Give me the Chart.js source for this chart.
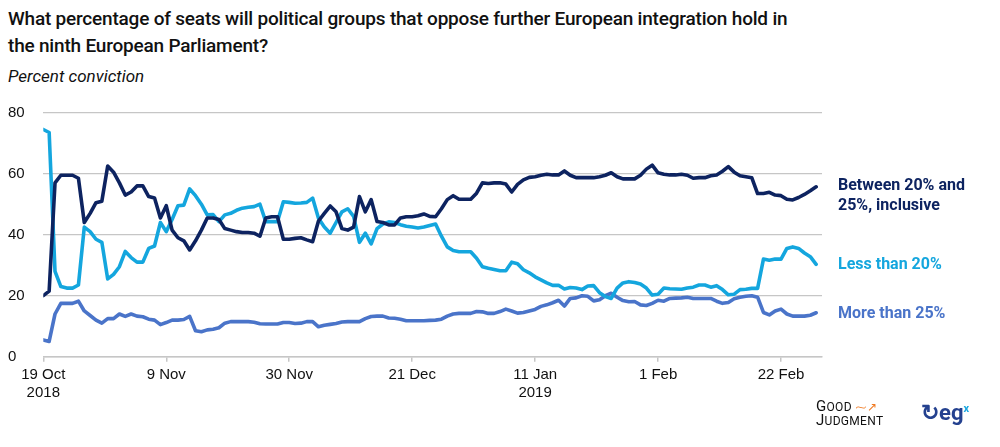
<!DOCTYPE html>
<html>
<head>
<meta charset="utf-8">
<script src="https://cdn.jsdelivr.net/npm/chart.js@4/dist/chart.umd.min.js"></script>
<style>
  html, body { margin: 0; padding: 0; background: #fff; }
  body { width: 1000px; height: 447px; position: relative; overflow: hidden; font-family: Roboto, sans-serif; color: #111; }
  #title { position: absolute; left: 8px; top: 5px; font-size: 19px; font-weight: 500; line-height: 27px; letter-spacing: -0.2px; }
  #subtitle { position: absolute; left: 8px; top: 66px; font-size: 17px; font-style: italic; }
  #wrap { position: absolute; left: 0; top: 0; width: 1000px; height: 447px; }
  .lab { position: absolute; left: 838px; font-size: 16px; font-weight: 700; line-height: 20px; }
  #logo-gj { position: absolute; left: 816px; top: 400px; font-size: 12px; line-height: 13px; color: #111; letter-spacing: 0.3px; }
  #logo-gj b { font-size: 15px; font-weight: 400; }
  #logo-gj .arr { color: #f07a22; font-size: 12px; }
  #logo-egx { position: absolute; left: 921px; top: 400px; font-size: 22px; font-weight: 700; color: #24418f; }
  #logo-egx sup { font-size: 11px; color: #1aa7e0; }
</style>
</head>
<body>
<div id="title">What percentage of seats will political groups that oppose further European integration hold in<br>the ninth European Parliament?</div>
<div id="subtitle">Percent conviction</div>
<div id="wrap"><canvas id="chart" width="1000" height="447"></canvas></div>
<div class="lab" style="top:175px;color:#0d2360">Between 20% and<br>25%, inclusive</div>
<div class="lab" style="top:254px;color:#14a6de">Less than 20%</div>
<div class="lab" style="top:303px;color:#4a74c9">More than 25%</div>
<div id="logo-gj"><b>G</b>OOD<span class="arr"> ⁓↗</span><br><b>J</b>UDGMENT</div>
<div id="logo-egx">&#x21BB;eg<sup>x</sup></div>
<script>
// Daily readings, day 0 = 19 Oct 2018
const seriesNames = ['Between 20% and 25%, inclusive', 'Less than 20%', 'More than 25%'];
const seriesColors = ['#0d2360', '#14a6de', '#4a74c9'];

const between = [
  20, 21.5, 57, 59.5, 59.5, 59.5, 58.5, 44, 47, 50.5,
  51, 62.5, 60.5, 57, 53, 54, 56, 56, 52.5, 52,
  45.5, 49.5, 41.5, 39, 38, 35, 38, 41.5, 45.5, 45.5,
  45, 42, 41.5, 41, 40.7, 40.7, 40.5, 39.5, 45.5, 45.9,
  45.9, 38.5, 38.5, 38.8, 39, 38.3, 37.7, 44.5, 47, 49.4,
  47.5, 42, 41.5, 42.5, 52.5, 47.5, 51.5, 44.3, 44, 43.2,
  43.2, 45.5, 45.9, 45.9, 46.2, 46.8, 46, 45.9, 48.5, 51.5,
  52.8, 51.6, 51.6, 51.6, 53.6, 57, 56.8, 57, 57, 56.6,
  54, 56.5, 58, 58.8, 59, 59.5, 59.8, 59.6, 59.6, 60.9,
  59.5, 58.7, 58.7, 58.7, 58.7, 59, 59.5, 60.3, 59, 58.3,
  58.3, 58.3, 59.5, 61.5, 62.8, 60.3, 59.8, 59.6, 59.6, 59.8,
  59.5, 58.5, 58.7, 58.7, 59.3, 59.6, 60.8, 62.3, 60.5, 59.3,
  59, 58.7, 53.5, 53.5, 53.9, 53, 52.8, 51.6, 51.4, 52.2,
  53.2, 54.4, 55.7
];
const lessThan20 = [
  74.5, 73.5, 28, 23, 22.5, 22.5, 23.5, 42.5, 41, 38.5,
  37.5, 25.5, 27, 29.5, 34.5, 32.5, 31, 31, 35.5, 36.3,
  44, 41, 45, 49.5, 49.7, 55, 52.8, 50, 46.5, 46.6,
  44.3, 46.5, 47, 48, 48.7, 49, 49.2, 50, 44.3, 44.3,
  44.3, 50.8, 50.6, 50.3, 50.4, 50.6, 52, 45.4, 42.5, 40.5,
  44, 47.5, 48.5, 46, 37.5, 40.5, 37, 42, 43.5, 44.2,
  44, 43.3, 42.8, 42.5, 42.2, 42.5, 43, 43.5, 39.5, 36,
  34.8, 34.4, 34.4, 34.4, 32.3, 29.5, 29, 28.6, 28.2, 28.2,
  31, 30.5, 28.5, 27.5, 26.2, 25.2, 24.2, 23.4, 23.4, 22.2,
  22.7, 22.5, 22, 23.2, 23.3, 21, 19.7, 19.1, 22.5, 24.2,
  24.6, 24.3, 23.8, 22.5, 20.2, 20.5, 22.5, 22.3, 22.2, 22.1,
  22.5, 22.8, 23.5, 23.5, 22.8, 23.3, 22, 20.3, 20.5, 22,
  22.1, 22.4, 22.4, 32, 31.6, 32, 32, 35.5, 36, 35.5,
  34, 32.8, 30.3
];
const moreThan25 = [
  5.5, 5, 14, 17.5, 17.5, 17.5, 18.2, 15, 13.5, 12,
  11, 12.5, 12.5, 14, 13.2, 14, 13.3, 13.1, 12.3, 12,
  10.5, 11.2, 12, 12, 12.2, 13.2, 8.5, 8.2, 8.8, 9,
  9.5, 11, 11.5, 11.5, 11.5, 11.5, 11.3, 10.8, 10.7, 10.7,
  10.7, 11.2, 11.2, 10.9, 11, 11.5, 11.5, 9.8, 10.3, 10.6,
  10.9, 11.4, 11.5, 11.5, 11.5, 12.5, 13.2, 13.3, 13.3, 12.7,
  12.6, 12.3, 11.8, 11.8, 11.8, 11.8, 11.9, 12, 12.3, 13.3,
  14, 14.2, 14.2, 14.2, 14.8, 14.7, 14.2, 14.2, 14.8, 15.6,
  15, 14.3, 14.5, 15, 15.5, 16.5, 17, 17.7, 18.5, 16.6,
  19.1, 19.3, 20, 19.8, 18.3, 18.7, 20, 20.8, 19.5, 18.4,
  18, 18.1, 17, 16.8, 17.5, 18.5, 18.2, 19.1, 19.2, 19.3,
  19.5, 19.1, 19.1, 19.1, 19.1, 18.2, 17.5, 17.8, 19, 19.5,
  19.8, 20, 19.5, 14.5, 13.7, 15, 15.6, 14, 13.3, 13.3,
  13.3, 13.6, 14.4
];

const tickDays = [0, 21, 42, 63, 84, 105, 126];
const tickLabels = [['19 Oct', '2018'], '9 Nov', '30 Nov', '21 Dec', ['11 Jan', '2019'], '1 Feb', '22 Feb'];
const yTicks = [0, 20, 40, 60, 80];

function toPoints(values) {
  return values.map((v, i) => ({ x: i, y: v }));
}

const allSeries = [between, lessThan20, moreThan25];

new Chart(document.getElementById('chart'), {
  type: 'line',
  data: {
    datasets: allSeries.map((vals, i) => ({
      label: seriesNames[i],
      data: toPoints(vals),
      borderColor: seriesColors[i],
      borderWidth: 3.6,
      pointRadius: 0,
      tension: 0,
      fill: false,
      borderJoinStyle: 'round',
      borderCapStyle: 'round',
    })),
  },
  options: {
    responsive: false,
    animation: false,
    layout: { padding: { left: 8, top: 112.7, right: 178, bottom: 0 } },
    plugins: { legend: { display: false }, tooltip: { enabled: false } },
    scales: {
      x: {
        type: 'linear',
        min: 0,
        max: 133,
        afterBuildTicks: (scale) => { scale.ticks = tickDays.map(v => ({ value: v })); },
        afterFit: (scale) => { scale.height = 90.3; },
        border: { display: true, color: '#c6c6c6', width: 1.5 },
        grid: { drawOnChartArea: false, drawTicks: true, tickLength: 5, color: '#c6c6c6', lineWidth: 1.5 },
        ticks: {
          autoSkip: false,
          maxRotation: 0,
          padding: 4,
          color: '#111',
          font: { family: 'Liberation Sans', size: 15 },
          callback: (v) => { const k = tickDays.indexOf(v); return k >= 0 ? tickLabels[k] : ''; },
        },
      },
      y: {
        min: 0,
        max: 80,
        afterBuildTicks: (scale) => { scale.ticks = yTicks.map(v => ({ value: v })); },
        afterFit: (scale) => { scale.width = 35.3; },
        border: { display: false },
        grid: { color: '#c6c6c6', lineWidth: 1.2, drawTicks: false },
        ticks: {
          crossAlign: 'far',
          padding: 12,
          color: '#111',
          font: { family: 'Liberation Sans', size: 15 },
        },
      },
    },
  },
});
</script>
</body>
</html>
